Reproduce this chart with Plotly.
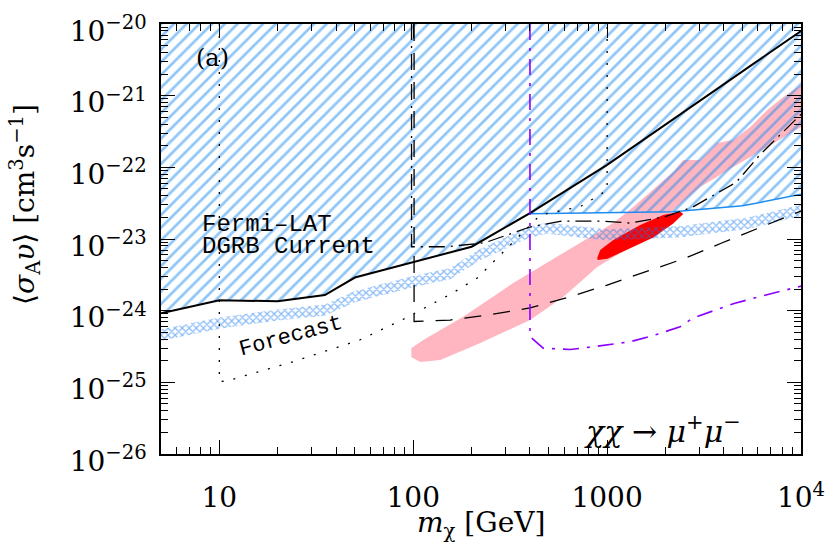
import plotly.graph_objects as go

# Fermi-LAT DGRB current limit (black solid) and its continuation (blue)
fermi_x = [5, 10, 20, 35, 50, 100, 200, 400, 1000, 10000]
fermi_y = [9.2e-25, 1.4e-24, 1.35e-24, 1.65e-24, 2.9e-24, 4.8e-24, 7.8e-24, 2.3e-23, 1.08e-22, 8e-21]
blue_x = [400, 1000, 2200, 5000, 10000]
blue_y = [2.25e-23, 2.3e-23, 2.4e-23, 2.9e-23, 4.2e-23]

# Forecast band (cross-hatched)
fc_x = [5, 10, 20, 35, 50, 100, 155, 220, 400, 490, 1000, 2400, 5300, 10000]
fc_lo = [3.8e-25, 5.6e-25, 7.3e-25, 8.5e-25, 1.31e-24, 2.12e-24, 2.75e-24, 5.0e-24,
         1.05e-23, 1.18e-23, 9.5e-24, 1.06e-23, 1.38e-23, 2.1e-23]
fc_hi = [5.5e-25, 8.0e-25, 1.04e-24, 1.22e-24, 1.88e-24, 3.04e-24, 3.95e-24, 7.2e-24,
         1.51e-23, 1.69e-23, 1.37e-23, 1.52e-23, 1.99e-23, 3.0e-23]

# other constraints
dash_x = [101, 101, 155, 243, 400, 646, 1000, 1600, 2530, 3900, 6300, 10000]
dash_y = [1e-20, 7.06e-25, 7.4e-25, 8.7e-25, 1.09e-24, 1.57e-24, 2.28e-24, 3.5e-24,
          5.4e-24, 8.8e-24, 1.47e-23, 2.46e-23]
dashdot_x = [98, 98, 150, 235, 400, 580, 925, 1315, 1970, 2770, 4640, 6130, 10000]
dashdot_y = [1e-20, 7.8e-24, 7.8e-24, 8.9e-24, 1.47e-23, 1.77e-23, 1.78e-23, 1.67e-23,
             2.03e-23, 2.8e-23, 6.2e-23, 1.49e-22, 5.5e-22]
dot_x = [10, 10, 11, 24, 53, 89, 118, 159, 214, 452, 728, 850, 1000, 1000]
dot_y = [1e-20, 1.02e-25, 1.05e-25, 1.94e-25, 3.9e-25, 7.6e-25, 1.14e-24, 1.75e-24,
         2.86e-24, 2.16e-23, 2.83e-23, 3.7e-23, 4.8e-23, 1e-20]
purple_x = [400, 400, 468, 645, 849, 1315, 1770, 2380, 2770, 3400, 4560, 6130, 9030, 10000]
purple_y = [1e-20, 4.34e-25, 3.0e-25, 2.87e-25, 3.14e-25, 3.69e-25, 4.58e-25, 5.98e-25,
            7.91e-25, 9.69e-25, 1.27e-24, 1.57e-24, 2.07e-24, 2.2e-24]

# preferred regions
pink_x = [97.7, 112.6, 181, 328, 594, 1076, 1364, 2193, 2469, 3022, 3698, 4472, 5470, 6695,
          8098, 10000, 10000, 6695, 4472, 3022, 1994, 1316, 889, 594, 401, 222, 138, 108.7, 97.7]
pink_y = [3.0e-25, 3.9e-25, 8.2e-25, 2.43e-24, 6.4e-24, 1.67e-23, 2.8e-23, 8.6e-23, 1.27e-22,
          1.27e-22, 2.19e-22, 2.41e-22, 3.66e-22, 6.3e-22, 9.58e-22, 1.41e-21, 3.66e-22,
          1.92e-22, 1.01e-22, 5.3e-23, 2.03e-23, 7.7e-24, 4.07e-24, 1.55e-24, 7.4e-25,
          3.54e-25, 2.05e-25, 1.92e-25, 2.26e-25]
red_x = [889, 921, 1076, 1482, 1948, 2383, 2469, 2193, 1730, 1316, 1002, 895]
red_y = [5.43e-24, 7.0e-24, 9.7e-24, 1.57e-23, 2.16e-23, 2.42e-23, 2.23e-23, 1.65e-23,
         1.05e-23, 7.4e-24, 5.3e-24, 5.1e-24]

x_ticks = [10, 100, 1000, 10000]
x_ticktext = ['10', '100', '1000', '10<sup>4</sup>']
y_exps = [-26, -25, -24, -23, -22, -21, -20]

BLUE = 'rgb(30,140,240)'
SERIF = 'DejaVu Serif'
MONO = 'Liberation Mono'

fig = go.Figure()

fig.add_trace(go.Scatter(x=pink_x, y=pink_y, fill='toself', fillcolor='rgb(255,182,193)',
                         mode='none', hoverinfo='skip'))
fig.add_trace(go.Scatter(x=red_x, y=red_y, fill='toself', fillcolor='rgb(255,0,0)',
                         mode='none', hoverinfo='skip'))

# hatched excluded region: boundary is black line up to 400 GeV then the blue line
bx = [v for v in fermi_x if v <= 400] + blue_x[1:]
by = [fermi_y[i] for i, v in enumerate(fermi_x) if v <= 400] + blue_y[1:]
fig.add_trace(go.Scatter(x=bx + [10000, 5], y=by + [1e-20, 1e-20], fill='toself',
                         fillcolor='rgba(0,0,0,0)', mode='none',
                         fillpattern=dict(shape='/', fgcolor=BLUE, bgcolor='rgba(0,0,0,0)',
                                          size=9, solidity=0.3)))

fig.add_trace(go.Scatter(x=fc_x + fc_x[::-1], y=fc_hi + fc_lo[::-1], fill='toself',
                         fillcolor='rgba(0,0,0,0)', mode='none',
                         fillpattern=dict(shape='x', fgcolor='rgb(20,120,240)',
                                          bgcolor='rgba(0,0,0,0)', size=5, solidity=0.45)))

fig.add_trace(go.Scatter(x=blue_x, y=blue_y, mode='lines', line=dict(color=BLUE, width=1.5)))
fig.add_trace(go.Scatter(x=fermi_x, y=fermi_y, mode='lines', line=dict(color='black', width=2)))
fig.add_trace(go.Scatter(x=dash_x, y=dash_y, mode='lines',
                         line=dict(color='black', width=1.3, dash='17px,12px')))
fig.add_trace(go.Scatter(x=dashdot_x, y=dashdot_y, mode='lines',
                         line=dict(color='black', width=1.3, dash='16px,6px,2px,6px')))
fig.add_trace(go.Scatter(x=dot_x, y=dot_y, mode='lines',
                         line=dict(color='black', width=1.3, dash='2px,10px')))
fig.add_trace(go.Scatter(x=purple_x, y=purple_y, mode='lines',
                         line=dict(color='rgb(140,0,255)', width=1.6, dash='16px,8px,3px,8px')))

x_minor = [m * 10 ** e for e in range(0, 4) for m in range(2, 10) if 5 < m * 10 ** e < 10000]
y_minor = [m * 10.0 ** e for e in range(-26, -20) for m in range(2, 10)]

axis_common = dict(showgrid=False, zeroline=False, showline=True, linecolor='black',
                   linewidth=1.5, mirror='allticks', ticks='inside', ticklen=14,
                   tickwidth=1.2, tickcolor='black', automargin=False,
                   tickfont=dict(family=SERIF, size=28, color='black'))

fig.update_xaxes(type='log', range=[0.69897, 4], tickvals=x_ticks, ticktext=x_ticktext,
                 ticklabelstandoff=18,
                 minor=dict(ticks='inside', ticklen=7, tickwidth=1.2, tickcolor='black',
                            tickvals=x_minor, showgrid=False),
                 **axis_common)
fig.update_yaxes(type='log', range=[-26, -20], tickvals=[10.0 ** e for e in y_exps],
                 ticktext=['10<sup>−%d</sup>' % -e for e in y_exps],
                 ticklabelstandoff=7, ticklabelshift=7,
                 minor=dict(ticks='inside', ticklen=7, tickwidth=1.2, tickcolor='black',
                            tickvals=y_minor, showgrid=False),
                 **axis_common)

annotations = [
    dict(text='(a)', x=0.080, y=0.921, font=dict(family=SERIF, size=24)),
    dict(text='Fermi–LAT', x=0.0614, y=0.534, xanchor='left', font=dict(family=MONO, size=24)),
    dict(text='DGRB Current', x=0.0614, y=0.483, xanchor='left', font=dict(family=MONO, size=24)),
    dict(text='Forecast', x=0.2033, y=0.2744, textangle=-15, font=dict(family=MONO, size=22)),
    dict(text='<i>χχ</i> → <i>μ</i><sup>+</sup><i>μ</i><sup>−</sup>', x=0.783, y=0.056,
         font=dict(family=SERIF, size=30)),
    dict(text='<i>m</i><sub>χ</sub> [GeV]', x=0.5, y=-0.165, font=dict(family=SERIF, size=28)),
    dict(text='⟨<i>σ</i><sub>A</sub><i>υ</i>⟩ [cm<sup>3</sup>s<sup>−1</sup>]', x=-0.212, y=0.58,
         textangle=-90, font=dict(family=SERIF, size=28)),
]
for a in annotations:
    a.setdefault('xanchor', 'center')
    a.update(xref='paper', yref='paper', showarrow=False, yanchor='middle')
    a['font'].setdefault('color', 'black')

fig.update_layout(width=830, height=551, margin=dict(l=161, r=29, t=24, b=97),
                  paper_bgcolor='white', plot_bgcolor='white', showlegend=False,
                  annotations=annotations)

# page body has a default 8px margin; drop it so the figure sits at the window origin
fig.write_html('out.html', config={'displayModeBar': False},
               post_script="document.body.style.margin='0px';")
